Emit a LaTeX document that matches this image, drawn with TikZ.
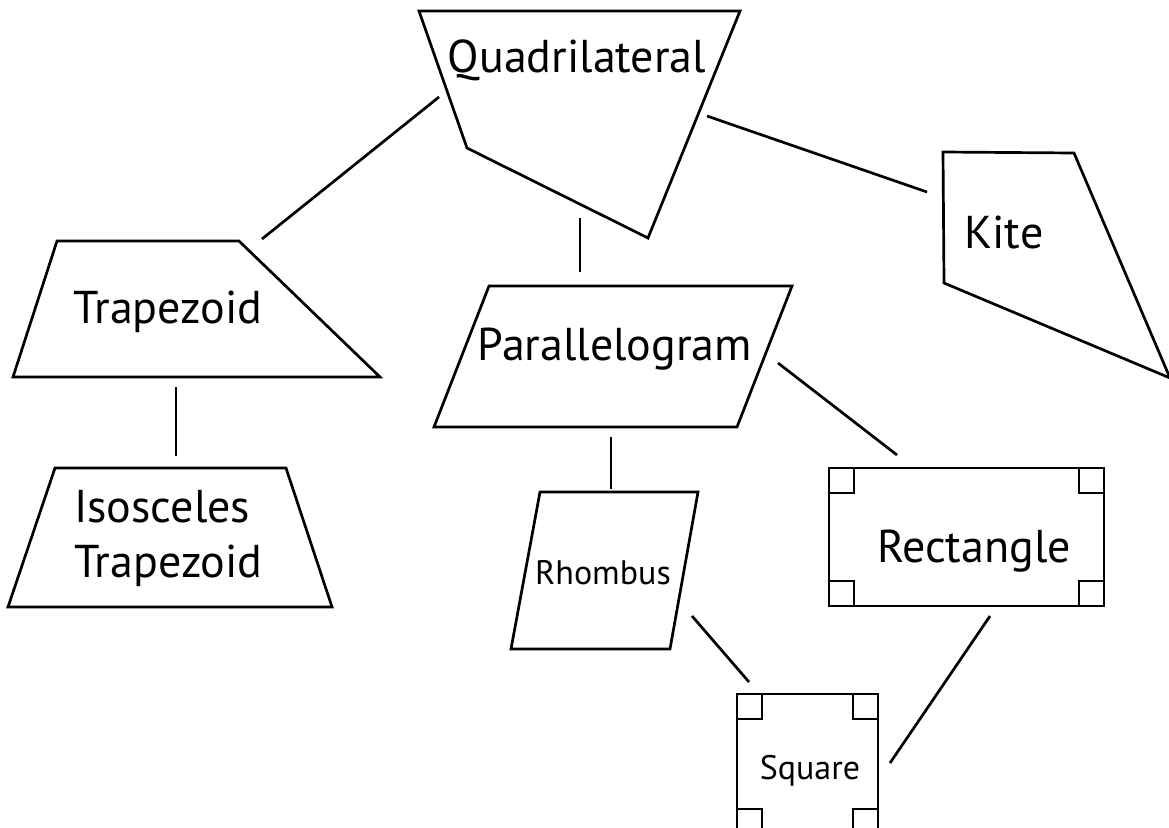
\documentclass[tikz,border=0pt]{standalone}
\usepackage{fontspec}
\setmainfont{PT Sans}
\usetikzlibrary{positioning}
\tikzset{
    outline/.style={
        draw=black,
        line width=2.7pt, % 边框粗细
        line join=miter
    },
    link/.style={
        draw=black,
        line width=2.7pt
    },
    bigtext/.style={
        inner sep=0,
        font=\fontsize{46}{55}\selectfont
    },
    smalltext/.style={
        inner sep=0,
        font=\fontsize{34}{40}\selectfont
    }
}

\begin{document}
\begin{tikzpicture}[x=1pt, y=-1pt]
    \useasboundingbox (0,0) rectangle (1169,827);
    \clip (0,0) rectangle (1169,827);
    % 图形轮廓
    \draw[outline] (419,11) -- (740,11) -- (648,238) -- (467,148) -- cycle;
    \draw[outline] (943,152) -- (1074,153) -- (1170,378) -- (944,283) -- cycle;
    \draw[outline] (57,241) -- (239,241) -- (380,377) -- (13,377) -- cycle;
    \draw[outline] (55,468) -- (286,468) -- (332,607) -- (8,607) -- cycle;
    \draw[outline] (489,286) -- (792,286) -- (737,427) -- (434,427) -- cycle;
    \draw[outline] (540,492) -- (698,492) -- (670,649) -- (511,649) -- cycle;
    \draw[outline] (829,468) rectangle (1104,606);
    \draw[outline] (737,694) rectangle (878,834);
    % 直角标记
    \foreach \x/\y/\dx/\dy in {829/468/1/1, 1104/468/-1/1, 829/606/1/-1, 1104/606/-1/-1,
                              737/694/1/1, 878/694/-1/1, 737/834/1/-1, 878/834/-1/-1}
        \draw[outline] (\x,\y) rectangle ++(25*\dx,25*\dy);
    % 文字
    \node[bigtext, anchor=base] (quad) at (577,72) {Quadrilateral};
    \node[bigtext, anchor=base] (kite) at (1004,248) {Kite};
    \node[bigtext, anchor=base] (trap) at (168,323) {Trapezoid};
    \node[bigtext, anchor=north west, align=left] (iso) at (74,490) {Isosceles\\Trapezoid};
    \node[bigtext, anchor=base] (para) at (615,360) {Parallelogram};
    \node[smalltext, anchor=base] (rhom) at (603,584) {Rhombus};
    \node[bigtext, anchor=base] (rect) at (974,562) {Rectangle};
    \node[smalltext, anchor=base] (squa) at (810,779) {Square};
    % 连线端点
    \coordinate (quad-trap) at (439,97);
    \coordinate (trap-quad) at (262,239);
    \coordinate (quad-para) at (580,218);
    \coordinate (para-quad) at (580,272);
    \coordinate (quad-kite) at (707,116);
    \coordinate (kite-quad) at (927,192);
    \coordinate (trap-iso) at (176,387);
    \coordinate (iso-trap) at (176,456);
    \coordinate (para-rhom) at (611,437);
    \coordinate (rhom-para) at (611,489);
    \coordinate (para-rect) at (778,363);
    \coordinate (rect-para) at (897,455);
    \coordinate (rhom-squa) at (692,616);
    \coordinate (squa-rhom) at (749,682);
    \coordinate (rect-squa) at (990,616);
    \coordinate (squa-rect) at (890,763);
    % 连线
    \draw[link] (quad-trap) -- (trap-quad);
    \draw[link] (quad-para) -- (para-quad);
    \draw[link] (quad-kite) -- (kite-quad);
    \draw[link] (trap-iso) -- (iso-trap);
    \draw[link] (para-rhom) -- (rhom-para);
    \draw[link] (para-rect) -- (rect-para);
    \draw[link] (rhom-squa) -- (squa-rhom);
    \draw[link] (rect-squa) -- (squa-rect);
\end{tikzpicture}
\end{document}
